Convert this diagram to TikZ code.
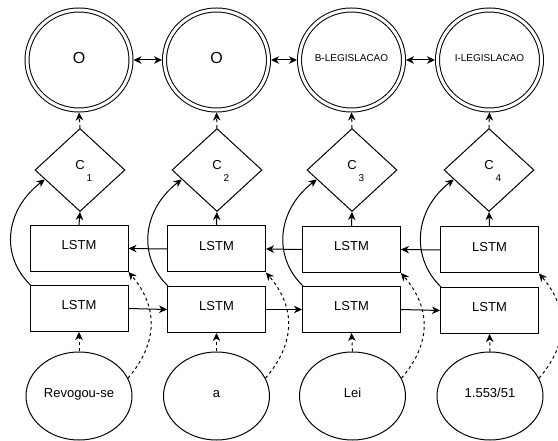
\documentclass[tikz,border=0pt]{standalone}
\usepackage{fontspec}
\setmainfont{Liberation Sans}
\usetikzlibrary{shapes.geometric,arrows.meta}
\begin{document}
\begin{tikzpicture}[x=1pt,y=-1pt,line width=1pt,
  tip/.style={-{Stealth[length=8pt,width=7.5pt,inset=2.5pt]}},
  bitip/.style={{Stealth[length=8pt,width=7.5pt,inset=2.5pt]}-{Stealth[length=8pt,width=7.5pt,inset=2.5pt]}},
  dsh/.style={dash pattern=on 3pt off 3pt},
  lstm/.style={draw,rectangle,minimum width=98pt,minimum height=46pt,inner sep=0pt,
    font=\fontsize{13}{15}\selectfont,text height=9.4pt,text depth=6.5pt},
  outc/.style={draw,ellipse,double,double distance=3pt,minimum width=104pt,minimum height=100pt,
    inner sep=0pt,outer sep=2.5pt},
  bigo/.style={outc,font=\fontsize{16}{18}\selectfont,text height=11.5pt,text depth=5pt},
  tago/.style={outc,font=\fontsize{10}{12}\selectfont,text height=7.2pt,text depth=4.4pt},
  dia/.style={draw,diamond,minimum width=90pt,minimum height=83pt,inner sep=0pt,
    font=\fontsize{13}{15}\selectfont},
  word/.style={draw,ellipse,minimum width=106pt,minimum height=88pt,inner sep=0pt,
    font=\fontsize{13}{15}\selectfont,text height=9.4pt,text depth=6pt}
]
\useasboundingbox (0,0) rectangle (558,441);
\newcommand{\csub}[1]{\smash{C\rlap{\raisebox{-12pt}{\hspace{2pt}\fontsize{10}{12}\selectfont #1}}}}

% output circles
\node[bigo] (o1) at (79,60) {O};
\node[bigo] (o2) at (216.5,60) {O};
\node[tago] (o3) at (351.5,60) {B-LEGISLACAO};
\node[tago] (o4) at (489.5,60) {I-LEGISLACAO};

% diamonds
\node[dia] (d1) at (80,170) {\csub{1}};
\node[dia] (d2) at (217,170) {\csub{2}};
\node[dia] (d3) at (352,170) {\csub{3}};
\node[dia] (d4) at (489,170) {\csub{4}};

% LSTM boxes
\node[lstm] (u1) at (79,248.5) {LSTM};
\node[lstm] (u2) at (216.5,249) {LSTM};
\node[lstm] (u3) at (351.5,249.5) {LSTM};
\node[lstm] (u4) at (489.5,250) {LSTM};
\node[lstm] (l1) at (79,308.5) {LSTM};
\node[lstm] (l2) at (216.5,309.5) {LSTM};
\node[lstm] (l3) at (351.5,309.5) {LSTM};
\node[lstm] (l4) at (489.5,310.5) {LSTM};

% input words
\node[word] (w1) at (79,396) {Revogou-se};
\node[word] (w2) at (216.5,396) {a};
\node[word] (w3) at (352.5,396) {Lei};
\node[word] (w4) at (490,396) {1.553/51};

\foreach \i in {1,...,4} {
  \draw[tip,dsh] (d\i.north) -- (o\i.south);
  \draw[tip] (u\i.north) -- (d\i.south);
  \draw[tip,dsh] (w\i.north) -- (l\i.south);
  \draw[tip] ([xshift=1pt]l\i.north west) .. controls +(-31,-30) and +(-39,30) .. (d\i.195);
  \draw[tip,dsh] (w\i.20) .. controls +(30,-35) and +(30,35) .. (u\i.south east);
}
\foreach \i/\j in {1/2,2/3,3/4} {
  \draw[bitip] (o\i.east) -- (o\j.west);
  \draw[tip] (l\i.east) -- (l\j.west);
  \draw[tip] (u\j.west) -- (u\i.east);
}
\end{tikzpicture}
\end{document}
